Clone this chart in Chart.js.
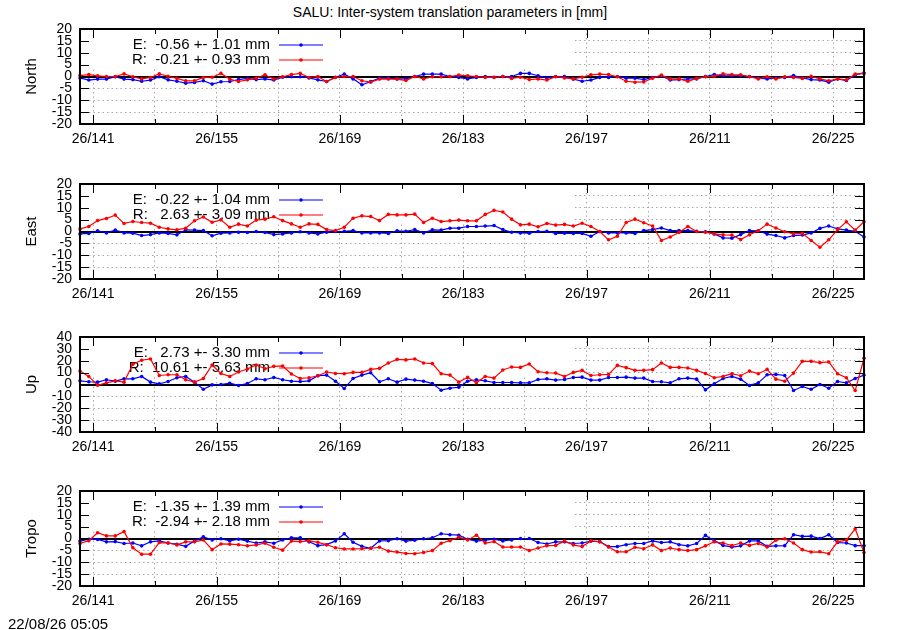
<!DOCTYPE html>
<html>
<head>
<meta charset="utf-8">
<script src="https://cdn.jsdelivr.net/npm/chart.js@4.4.0/dist/chart.umd.min.js"></script>
<style>
  body { margin: 0; background: #fff; width: 900px; height: 630px; position: relative; overflow: hidden;
         font-family: "Liberation Sans", Arial, sans-serif; color: #000; }
  #titulo { position: absolute; left: 0; top: 4px; width: 900px; text-align: center; font-size: 14px; }
  .panel { position: absolute; left: 0; }
  #fecha { position: absolute; left: 8px; top: 615px; font-size: 15px; }
</style>
</head>
<body>
<div id="titulo">SALU: Inter-system translation parameters in [mm]</div>
<canvas id="north" class="panel" width="900" height="154" style="top:0px"></canvas>
<canvas id="east" class="panel" width="900" height="154" style="top:155px"></canvas>
<canvas id="up" class="panel" width="900" height="154" style="top:308px"></canvas>
<canvas id="tropo" class="panel" width="900" height="154" style="top:462px"></canvas>
<div id="fecha">22/08/26 05:05</div>
<script>
// dias del año (cada punto es una solución diaria)
const days = [
  139,140,141,142,143,144,145,146,147,148,
  149,150,151,152,153,154,155,156,157,158,
  159,160,161,162,163,164,165,166,167,168,
  169,170,171,172,173,174,175,176,177,178,
  179,180,181,182,183,184,185,186,187,188,
  189,190,191,192,193,194,195,196,197,198,
  199,200,201,202,203,204,205,206,207,208,
  209,210,211,212,213,214,215,216,217,218,
  219,220,221,222,223,224,225,226,227,228
];

// ticks del eje x (cada 7 dias, etiqueta cada 14)
const xTickDays = [141, 148, 155, 162, 169, 176, 183, 190, 197, 204, 211, 218, 225];
const xTickLabels = ['26/141', '', '26/155', '', '26/169', '', '26/183', '', '26/197', '', '26/211', '', '26/225'];

// North
const northE = [
  -0.6, -1.5, -1.1, -1.1, -0.1, -1.1, -1.3, -2.0, -1.5, -0.1,
  -1.4, -2.0, -2.8, -2.5, -1.8, -3.2, -2.2, -2.1, -1.3, -0.8,
  -1.3, -1.0, -1.5, -0.3, -0.1, -0.1, -0.6, -1.4, -2.1, -0.3,
   1.0, -1.0, -3.5, -2.1, -0.7, -0.7, -1.0, -1.0,  0.0,  1.0,
   1.0,  1.0,  0.0, -0.4, -1.0, -0.4,  0.0, -0.3,  0.0,  0.0,
   1.3,  1.3,  0.3, -0.6,  0.0,  0.0, -1.1, -2.0, -1.5, -0.4,
  -0.4,  0.0, -0.7, -0.7, -1.3, -0.4,  0.3, -1.5, -1.3, -1.0,
  -1.0,  0.0,  0.8,  0.3,  0.3,  0.4,  0.0, -0.7, -1.0, -0.7,
  -0.4,  0.4, -0.6, -1.3, -1.5, -2.4, -1.0, -1.7,  0.7,  1.5
];
const northR = [
   0.4,  0.8,  0.3,  0.0,  0.0,  1.1, -0.1, -1.0, -0.4,  1.1,
   0.1, -0.8, -1.8, -1.8, -0.4, -0.3,  1.3, -1.1, -2.1, -1.4,
  -0.7,  0.7, -1.1, -0.1,  0.8,  1.3, -0.4,  0.0, -2.1, -0.4,
   0.0,  0.0, -1.8, -2.4, -1.1, -1.1, -1.1, -1.7,  0.0, -1.0,
  -0.1, -0.1,  0.0,  0.6,  0.3,  0.0, -0.4, -0.4,  0.0, -0.8,
  -0.3, -1.3, -1.0, -1.5, -0.1, -0.6, -1.0, -0.3,  0.7,  1.0,
   0.8, -0.1, -2.0, -2.4, -2.3, -0.7,  0.6, -1.0, -1.0, -2.0,
  -0.8, -0.1,  0.1,  1.1,  0.8,  0.7, -0.1, -1.0, -0.1, -1.0,
  -0.1, -0.4, -0.8,  0.1, -1.0, -1.8, -1.0, -1.4,  1.0,  1.3
];

// East
const eastE = [
  -1.0, -0.8,  0.3, -0.6,  0.6, -0.6, -0.7, -1.7, -1.3, -0.6,
  -0.8, -1.4,  0.7,  0.6,  0.4, -1.8, -0.7, -0.6, -0.3, -0.4,
   0.0, -0.4, -1.3, -1.0, -0.6, -0.1, -0.6, -1.0, -0.3,  0.0,
   0.1,  0.4, -0.6, -0.6, -0.6, -0.8,  0.3,  0.1,  0.8, -0.6,
   0.7,  0.6,  1.4,  1.4,  2.1,  2.1,  2.3,  2.5,  0.8, -0.3,
  -0.6, -0.7,  0.0,  0.1, -0.8, -0.7, -0.8, -0.8, -2.0,  0.0,
  -0.6, -0.6, -0.6, -0.8,  0.4,  0.8,  1.5,  0.4,  0.4,  0.4,
   0.1, -0.1, -1.0, -2.7, -2.8, -1.3,  0.4,  0.3, -1.1, -1.7,
  -2.7, -1.7, -1.5, -0.6,  1.3,  2.3,  1.1,  0.6,  0.1, -2.3
];
const eastR = [
   1.1,  2.1,  4.6,  5.5,  6.9,  3.4,  4.2,  3.8,  3.5,  1.8,
   1.1,  0.7,  1.4,  4.5,  6.1,  3.9,  4.9,  1.8,  3.1,  2.3,
   4.8,  5.2,  6.2,  4.6,  3.2,  1.8,  3.2,  3.0,  0.8,  0.4,
   1.8,  5.6,  6.6,  6.3,  4.6,  7.2,  7.0,  7.0,  7.3,  3.8,
   5.6,  4.2,  4.5,  4.8,  4.5,  4.5,  7.2,  8.9,  8.2,  5.2,
   2.8,  3.1,  2.0,  3.4,  2.7,  3.0,  2.3,  3.5,  2.1,  0.0,
  -3.5, -2.0,  3.8,  5.2,  3.7,  2.3, -3.8, -2.3, -0.4,  2.1,
   0.0, -0.3, -1.0, -1.4, -1.5, -3.4, -1.4,  0.3,  3.1,  1.5,
  -0.1, -1.0, -0.8, -3.8, -6.6, -3.5,  0.8,  4.1,  0.6,  4.1
];

// Up
const upE = [
   3.1,  2.3,  2.0,  4.0,  2.8,  4.8,  4.8,  6.8,  2.0,  0.6,
   2.5,  5.7,  6.8,  2.0, -4.0, -0.3,  0.0,  1.1, -0.8,  0.8,
   4.8,  4.0,  5.9,  4.0,  2.8,  2.5,  3.1,  7.4,  7.9,  2.8,
  -3.4,  5.1,  7.9,  9.9,  2.3,  4.8,  2.0,  4.5,  3.7,  2.8,
   0.8, -4.8, -3.1, -2.3,  2.8,  4.0,  3.1,  1.7,  1.7,  1.7,
   1.4,  1.4,  4.2,  4.8,  3.7,  4.2,  5.9,  6.2,  3.7,  3.7,
   5.9,  5.9,  6.2,  5.4,  5.4,  2.5,  2.3,  1.4,  4.8,  5.4,
   4.5, -4.5,  0.6,  5.1,  6.8,  4.5, -0.8,  1.4,  8.2,  8.5,
   7.6, -5.1, -1.7, -4.0,  0.0, -3.1,  2.5,  1.4,  5.1,  7.9
];
const upR = [
  11.3,  6.8, -0.6,  1.4,  3.1,  2.0, 17.0, 20.4, 21.5,  7.6,
   8.2,  8.2,  4.0,  2.0,  5.1, 16.4,  9.3,  6.8, 10.5, 13.0,
  16.4, 13.3, 15.3, 15.6,  8.8,  5.1,  5.7,  7.4, 10.5,  9.3,
   9.1, 10.2, 10.2, 12.7, 13.6, 18.1, 21.2, 20.7, 21.5, 18.1,
  17.6,  9.1,  7.9,  2.0,  6.0,  1.4,  6.8,  5.4, 12.2, 14.7,
  14.4, 17.3, 10.8,  9.9,  9.6,  6.8, 10.2, 11.9,  7.6,  8.2,
   8.5, 16.1, 14.2, 11.9, 11.9, 12.5, 18.1, 14.4, 14.4, 13.9,
  11.9,  9.3,  5.7,  6.8,  9.1,  7.4, 11.3,  9.1, 12.7,  4.5,
   2.8,  9.6, 19.5, 19.5, 18.4, 19.0,  9.1,  5.7, -5.1, 22.1
];

// Tropo
const tropoE = [
  -1.1, -0.3, -0.4, -1.4, -1.3, -2.1, -1.9, -3.1, -1.4, -1.0,
  -1.9, -2.4, -3.3, -1.0,  0.7, -0.6, -0.1, -1.0, -0.3, -1.1,
  -1.9, -1.4, -2.0, -0.6,  0.3,  0.3, -1.4, -3.0, -2.6, -1.0,
   2.0, -1.6, -3.3, -4.1, -1.0, -0.9, -0.1, -1.1, -0.7, -0.1,
   0.3,  2.0,  1.6,  1.4, -0.3, -1.1, -0.7, -0.3, -1.0, -0.6,
   0.0,  0.0, -1.7, -2.3, -1.4, -1.4, -2.1, -1.9, -1.1, -1.3,
  -3.4, -3.4, -2.6, -2.1, -2.1, -1.0, -1.7, -1.4, -2.6, -3.1,
  -2.1,  1.3, -0.9, -2.9, -3.6, -3.1, -1.0, -1.0, -3.3, -3.1,
  -3.0,  1.6,  0.9,  1.0,  0.0,  1.6, -1.7, -1.9, -3.0, -3.0
];
const tropoR = [
  -2.1, -0.9,  2.4,  1.1,  1.1,  2.9, -3.9, -6.6, -6.6, -1.7,
  -1.9, -2.7, -1.4, -1.4, -0.6, -4.7, -2.3, -2.4, -2.6, -3.1,
  -2.7, -2.0, -3.7, -4.9, -1.1, -1.3, -1.0, -1.6, -2.6, -3.9,
  -4.4, -4.4, -4.3, -4.1, -3.7, -5.3, -5.7, -6.3, -6.4, -5.9,
  -5.1, -2.0, -0.9,  0.6, -0.6,  1.4, -1.9, -1.3, -3.6, -3.6,
  -3.6, -5.1, -4.0, -3.0, -2.9, -1.1, -2.7, -3.4, -1.0, -1.4,
  -3.6, -5.6, -5.6, -3.7, -4.3, -2.7, -5.1, -4.0, -4.7, -5.1,
  -4.7, -3.1, -1.4, -1.9, -3.0, -1.9, -2.9, -2.1, -3.6, -0.7,
  -0.1, -1.9, -4.7, -5.7, -5.6, -6.4, -1.4, -0.7,  4.1, -5.9
];

// textos de la leyenda (media +- desviacion)
const northKey = ['E:  -0.56 +- 1.01 mm', 'R:  -0.21 +- 0.93 mm'];
const eastKey  = ['E:  -0.22 +- 1.04 mm', 'R:   2.63 +- 3.09 mm'];
const upKey    = ['E:   2.73 +- 3.30 mm', 'R:  10.61 +- 5.63 mm'];
const tropoKey = ['E:  -1.35 +- 1.39 mm', 'R:  -2.94 +- 2.18 mm'];

const colores = ['#0000ff', '#ff0000'];
const fuente = '"Liberation Sans", Arial, sans-serif';

Chart.defaults.font.family = fuente;
Chart.defaults.color = '#000';

// marco, linea del cero, ticks hacia dentro y leyenda estilo gnuplot
const decoGnuplot = {
  id: 'decoGnuplot',
  beforeDatasetsDraw(chart, args, opts) {
    const { ctx, chartArea: a, scales: { y } } = chart;
    ctx.save();
    // caja opaca de la leyenda
    ctx.fillStyle = '#fff';
    ctx.fillRect(a.left + 1, a.top + 1, 573 - a.left, 39);
    // eje cero
    const y0 = Math.round(y.getPixelForValue(0));
    ctx.strokeStyle = '#000';
    ctx.lineWidth = 2;
    ctx.beginPath();
    ctx.moveTo(a.left, y0);
    ctx.lineTo(a.right, y0);
    ctx.stroke();
    // leyenda
    ctx.font = '15px ' + fuente;
    ctx.textAlign = 'right';
    ctx.textBaseline = 'middle';
    opts.key.forEach((txt, k) => {
      const ty = a.top + 16 + 15 * k;
      ctx.fillStyle = '#000';
      ctx.fillText(txt, 270, ty);
      ctx.strokeStyle = colores[k];
      ctx.lineWidth = 1.2;
      ctx.beginPath();
      ctx.moveTo(279, ty);
      ctx.lineTo(323, ty);
      ctx.stroke();
      ctx.fillStyle = colores[k];
      ctx.beginPath();
      ctx.arc(301, ty, 1.8, 0, Math.PI * 2);
      ctx.fill();
    });
    ctx.restore();
  },
  afterDraw(chart) {
    const { ctx, chartArea: a, scales: { x, y } } = chart;
    ctx.save();
    ctx.strokeStyle = '#000';
    ctx.lineWidth = 1;
    ctx.beginPath();
    xTickDays.forEach((d, i) => {
      const px = Math.round(x.getPixelForValue(d)) + 0.5;
      const len = xTickLabels[i] ? 9 : 5;
      ctx.moveTo(px, a.bottom); ctx.lineTo(px, a.bottom - len);
      ctx.moveTo(px, a.top); ctx.lineTo(px, a.top + len);
    });
    y.ticks.forEach(t => {
      const py = Math.round(y.getPixelForValue(t.value)) + 0.5;
      ctx.moveTo(a.left, py); ctx.lineTo(a.left + 9, py);
      ctx.moveTo(a.right, py); ctx.lineTo(a.right - 9, py);
    });
    ctx.stroke();
    ctx.lineWidth = 2;
    ctx.strokeRect(a.left, a.top, a.right - a.left, a.bottom - a.top);
    ctx.restore();
  }
};

function crearPanel(id, titulo, limite, paso, valoresE, valoresR, key) {
  const serie = (vals) => vals.map((v, i) => ({ x: days[i] + 0.5, y: v }));
  const base = {
    borderWidth: 1.2,
    pointRadius: 1.8,
    pointBorderWidth: 0,
    tension: 0,
    clip: false
  };
  new Chart(document.getElementById(id), {
    type: 'line',
    data: {
      datasets: [
        { ...base, label: 'E', data: serie(valoresE), borderColor: colores[0], backgroundColor: colores[0], order: 1 },
        { ...base, label: 'R', data: serie(valoresR), borderColor: colores[1], backgroundColor: colores[1], order: 0 }
      ]
    },
    plugins: [decoGnuplot],
    options: {
      responsive: false,
      animation: false,
      events: [],
      layout: { padding: { top: 29, right: 36, bottom: 0, left: 0 } },
      scales: {
        x: {
          type: 'linear',
          min: 139.5,
          max: 228.5,
          afterBuildTicks: s => { s.ticks = xTickDays.map(v => ({ value: v })); },
          afterFit: s => { s.height = 30; },
          ticks: {
            autoSkip: false,
            maxRotation: 0,
            padding: 7,
            font: { size: 14 },
            callback: v => xTickLabels[xTickDays.indexOf(v)] || ''
          },
          grid: { color: '#a8a8a8', lineWidth: 1, drawTicks: false },
          border: { display: false, dash: [1.5, 3] }
        },
        y: {
          min: -limite,
          max: limite,
          afterFit: s => { s.width = 80; },
          ticks: { stepSize: paso, autoSkip: false, padding: 8, font: { size: 14 } },
          grid: {
            drawTicks: false,
            lineWidth: 1,
            color: c => (c.tick.value === 0 || Math.abs(c.tick.value) === limite) ? 'rgba(0,0,0,0)' : '#a8a8a8'
          },
          border: { display: false, dash: [1.5, 3] },
          title: { display: true, text: titulo, font: { size: 15 }, padding: { top: 23, bottom: 0 } }
        }
      },
      plugins: {
        legend: { display: false },
        tooltip: { enabled: false },
        decoGnuplot: { key: key }
      }
    }
  });
}

crearPanel('north', 'North', 20, 5, northE, northR, northKey);
crearPanel('east', 'East', 20, 5, eastE, eastR, eastKey);
crearPanel('up', 'Up', 40, 10, upE, upR, upKey);
crearPanel('tropo', 'Tropo', 20, 5, tropoE, tropoR, tropoKey);
</script>
</body>
</html>
